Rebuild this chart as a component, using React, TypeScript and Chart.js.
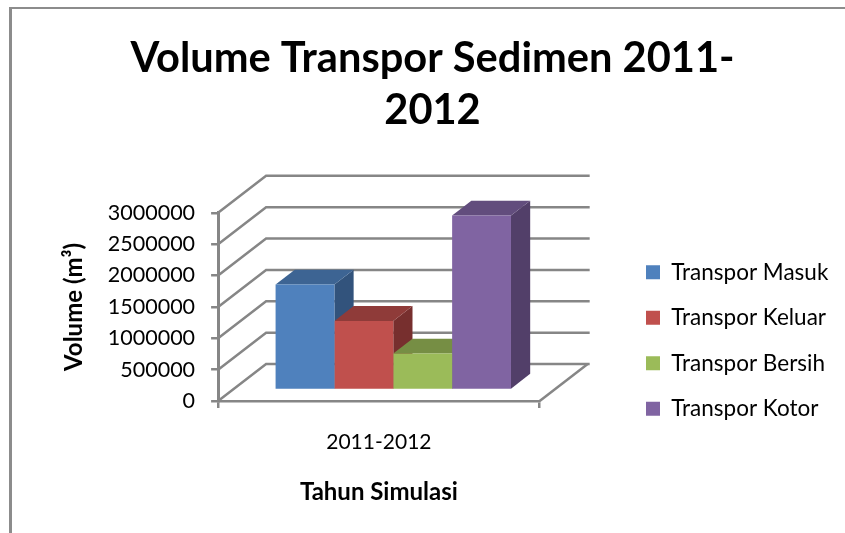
import React, { useEffect, useRef } from "react";
import { Chart, registerables } from "chart.js";

Chart.register(...registerables);

const categories = ["2011-2012"];
const seriesNames = ["Transpor Masuk", "Transpor Keluar", "Transpor Bersih", "Transpor Kotor"];
const transporMasuk = [1680000];
const transporKeluar = [1100000];
const transporBersih = [580000];
const transporKotor = [2780000];
const frontColors = ["#4f81bd", "#c0504d", "#9bbb59", "#8064a2"];
const topColors = ["#3d6493", "#8f3b39", "#768e44", "#624d7d"];
const sideColors = ["#32537c", "#772f2e", "#627638", "#523f69"];
const titleLines = ["Volume Transpor Sedimen 2011-", "2012"];

const AXIS = "#868686";
const FONT = "Lato, Carlito, sans-serif";
const DEPTH_X = 48;
const DEPTH_Y = -37;
const BAR_START = 0.3;
const BAR_END = 0.7;

const threeD = {
  id: "threeD",
  beforeDraw(chart: any) {
    const { ctx } = chart;
    ctx.save();
    ctx.fillStyle = "#8c8c8c";
    ctx.fillRect(9, 7, 836, 2);
    ctx.fillRect(9, 7, 3, 526);
    ctx.restore();
  },
  afterLayout(chart: any) {
    const t = chart.titleBlock;
    t.left += 25;
    t.right += 25;
    const l = chart.legend;
    const w = l.width;
    const h = l.height;
    l.left = 623;
    l.right = 623 + w;
    l.top = 238;
    l.bottom = 238 + h;
  },
  beforeDatasetsDraw(chart: any) {
    const { ctx, chartArea, scales } = chart;
    const { left, right, bottom } = chartArea;
    ctx.save();
    ctx.strokeStyle = AXIS;
    ctx.lineWidth = 2.5;
    scales.y.ticks.forEach((tk: any) => {
      const y = scales.y.getPixelForValue(tk.value);
      ctx.beginPath();
      ctx.moveTo(left, y);
      ctx.lineTo(left + DEPTH_X, y + DEPTH_Y);
      ctx.lineTo(right + DEPTH_X + 2, y + DEPTH_Y);
      ctx.stroke();
    });
    ctx.beginPath();
    ctx.moveTo(right, bottom);
    ctx.lineTo(right + DEPTH_X, bottom + DEPTH_Y);
    ctx.stroke();

    const sx = DEPTH_X * BAR_START;
    const sy = DEPTH_Y * BAR_START;
    const dx = DEPTH_X * (BAR_END - BAR_START);
    const dy = DEPTH_Y * (BAR_END - BAR_START);
    chart.data.datasets.forEach((_: any, i: number) => {
      const el = chart.getDatasetMeta(i).data[0];
      const { x, y, base, width } = el.getProps(["x", "y", "base", "width"], true);
      const x0 = x - width / 2 + sx;
      const x1 = x + width / 2 + sx;
      const yt = y + sy;
      const yb = base + sy;
      ctx.fillStyle = sideColors[i];
      ctx.beginPath();
      ctx.moveTo(x1, yt);
      ctx.lineTo(x1 + dx, yt + dy);
      ctx.lineTo(x1 + dx, yb + dy);
      ctx.lineTo(x1, yb);
      ctx.closePath();
      ctx.fill();
      ctx.fillStyle = topColors[i];
      ctx.beginPath();
      ctx.moveTo(x0, yt);
      ctx.lineTo(x0 + dx, yt + dy);
      ctx.lineTo(x1 + dx, yt + dy);
      ctx.lineTo(x1, yt);
      ctx.closePath();
      ctx.fill();
    });
    ctx.restore();
    ctx.save();
    ctx.translate(sx, sy);
  },
  afterDatasetsDraw(chart: any) {
    chart.ctx.restore();
  },
};

export default function App() {
  const ref = useRef<HTMLCanvasElement>(null);
  useEffect(() => {
    const values = [transporMasuk, transporKeluar, transporBersih, transporKotor];
    const chart = new Chart(ref.current as HTMLCanvasElement, {
      type: "bar",
      data: {
        labels: categories,
        datasets: seriesNames.map((name, i) => ({
          label: name,
          data: values[i],
          backgroundColor: frontColors[i],
          borderWidth: 0,
          barPercentage: 1,
          categoryPercentage: 0.732,
        })),
      },
      options: {
        responsive: false,
        animation: false,
        layout: { padding: { left: 60, right: 90, top: 24, bottom: 26 } },
        plugins: {
          tooltip: { enabled: false },
          title: {
            display: true,
            text: titleLines,
            color: "#000000",
            font: { family: FONT, size: 41.6, weight: "bold", lineHeight: 1.26 },
            padding: { top: 8, bottom: 76 },
          },
          legend: {
            position: "right",
            align: "start",
            maxWidth: 320,
            labels: {
              color: "#000000",
              boxWidth: 14,
              boxHeight: 14,
              padding: 23,
              font: { family: FONT, size: 22.5 },
            },
          },
        },
        scales: {
          x: {
            grid: { drawOnChartArea: false, color: AXIS, lineWidth: 2.5, tickLength: 7 },
            border: { color: AXIS, width: 2.5 },
            ticks: { color: "#000000", font: { family: FONT, size: 21 }, padding: 22 },
            title: {
              display: true,
              text: "Tahun Simulasi",
              color: "#000000",
              font: { family: FONT, size: 24, weight: "bold" },
              padding: { top: 1, bottom: 0 },
            },
          },
          y: {
            min: 0,
            max: 3000000,
            grid: { drawOnChartArea: false, color: AXIS, lineWidth: 2.5, tickLength: 7 },
            border: { color: AXIS, width: 3 },
            ticks: {
              stepSize: 500000,
              autoSkip: false,
              color: "#000000",
              font: { family: FONT, size: 21.5 },
              padding: 16,
              callback: (v: any) => String(v),
            },
            title: {
              display: true,
              text: "Volume (m³)",
              color: "#000000",
              font: { family: FONT, size: 24, weight: "bold" },
              padding: { top: 0, bottom: 3 },
            },
          },
        },
      },
      plugins: [threeD],
    } as any);
    return () => chart.destroy();
  }, []);
  return (
    <div style={{ position: "absolute", left: 0, top: 0, width: 845, height: 533, overflow: "hidden" }}>
      <canvas ref={ref} width={845} height={533} style={{ display: "block" }} />
    </div>
  );
}
